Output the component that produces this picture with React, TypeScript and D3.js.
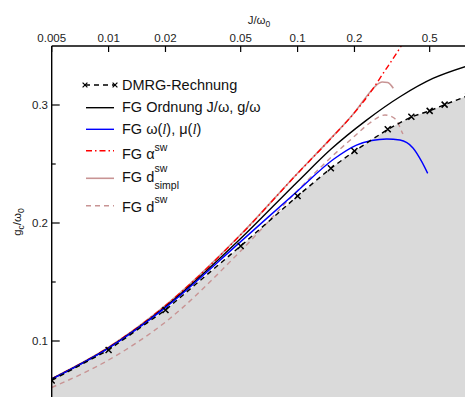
import React from "react";
import * as d3 from "d3";

const W = 465;
const H = 397;

// Axis ticks
const X_TICKS = [0.005, 0.01, 0.02, 0.05, 0.1, 0.2, 0.5];
const X_TICK_LABELS = ["0.005", "0.01", "0.02", "0.05", "0.1", "0.2", "0.5"];
const Y_TICKS = [0.1, 0.2, 0.3];
const Y_TICK_LABELS = ["0.1", "0.2", "0.3"];
const Y_MINOR_TICKS = [0.15, 0.25];

// DMRG reference points
const J_DMRG = [0.005, 0.01, 0.02, 0.05, 0.1, 0.15, 0.2, 0.3, 0.4, 0.5, 0.6, 0.8];
const G_DMRG = [0.0666, 0.0924, 0.1263, 0.1805, 0.2229, 0.2464, 0.261, 0.2794, 0.29, 0.295, 0.3003, 0.308];

// Flow-equation results
const J_ORD = [0.005, 0.01, 0.02, 0.05, 0.1, 0.15, 0.23, 0.35, 0.52, 0.77];
const G_ORD = [0.0678, 0.0942, 0.129, 0.1868, 0.235, 0.2625, 0.2868, 0.3072, 0.3225, 0.3325];

const J_OMEGA = [0.005, 0.01, 0.02, 0.05, 0.1, 0.155, 0.205, 0.247, 0.296, 0.348, 0.408, 0.454, 0.488];
const G_OMEGA = [0.0677, 0.094, 0.1283, 0.1842, 0.2272, 0.254, 0.266, 0.2699, 0.2712, 0.2703, 0.2636, 0.252, 0.2421];

const J_ALPHA = [0.005, 0.01, 0.02, 0.05, 0.1, 0.15, 0.2, 0.24, 0.284, 0.348, 0.42];
const G_ALPHA = [0.068, 0.0946, 0.13, 0.19, 0.242, 0.2715, 0.2935, 0.3095, 0.3269, 0.3483, 0.37];

const J_DSIMPL = [0.005, 0.01, 0.02, 0.05, 0.1, 0.15, 0.2, 0.235, 0.26, 0.28, 0.3, 0.321];
const G_DSIMPL = [0.0681, 0.0947, 0.1302, 0.1902, 0.2422, 0.2717, 0.2937, 0.3085, 0.3165, 0.3195, 0.319, 0.3142];

const J_DSW = [0.005, 0.01, 0.02, 0.05, 0.1, 0.15, 0.2, 0.24, 0.29, 0.334, 0.352, 0.361];
const G_DSW = [0.0606, 0.0839, 0.1161, 0.1763, 0.2275, 0.2555, 0.2735, 0.2845, 0.2915, 0.2873, 0.279, 0.2754];

const FONT = "'Liberation Sans', Arial, Helvetica, sans-serif";
const PINK = "rgb(200,148,148)";

export default function App() {
  const x = d3.scaleLog().domain([0.005, 0.769]).range([51.7, 465]);
  const y = d3.scaleLinear().domain([0.05, 0.35]).range([400, 46]);

  const smooth = (js: number[], gs: number[]) =>
    d3
      .line<number>()
      .x((_, i) => x(js[i]))
      .y((g) => y(g))
      .curve(d3.curveMonotoneX)(gs) || "";

  const dmrgLine =
    d3
      .line<number>()
      .x((_, i) => x(J_DMRG[i]))
      .y((g) => y(g))(G_DMRG) || "";

  const dmrgArea =
    d3
      .area<number>()
      .x((_, i) => x(J_DMRG[i]))
      .y0(H + 20)
      .y1((g) => y(g))(G_DMRG) || "";

  const cross = "M-3,-3L3,3M-3,3L3,-3";
  const left = x(0.005);
  const top = y(0.35);

  const legendLineX0 = 86;
  const legendLineX1 = 114;
  const textX = 122;
  const supX = 154.5;

  return (
    <svg
      width={W}
      height={H}
      style={{ position: "absolute", left: 0, top: 0, background: "#fff" }}
      fontFamily={FONT}
    >
      <defs>
        <clipPath id="plot">
          <rect x={left} y={top} width={W - left} height={H - top} />
        </clipPath>
      </defs>

      <g clipPath="url(#plot)">
        <path d={dmrgArea} fill="#dadada" />
        <path d={smooth(J_DSW, G_DSW)} fill="none" stroke={PINK} strokeWidth={1.4} strokeDasharray="5,4" />
        <path d={smooth(J_DSIMPL, G_DSIMPL)} fill="none" stroke={PINK} strokeWidth={1.6} />
        <path d={smooth(J_ALPHA, G_ALPHA)} fill="none" stroke="#ff0000" strokeWidth={1.4} strokeDasharray="6,3,1.5,3" />
        <path d={smooth(J_ORD, G_ORD)} fill="none" stroke="#000" strokeWidth={1.4} />
        <path d={smooth(J_OMEGA, G_OMEGA)} fill="none" stroke="#0000ff" strokeWidth={1.4} />
        <path d={dmrgLine} fill="none" stroke="#000" strokeWidth={1.4} strokeDasharray="5,4" />
        {J_DMRG.map((j, i) => (
          <path
            key={j}
            d={cross}
            transform={`translate(${x(j)},${y(G_DMRG[i])})`}
            stroke="#000"
            strokeWidth={1.5}
            fill="none"
          />
        ))}
      </g>

      {/* axes */}
      <line x1={left} x2={W} y1={top} y2={top} stroke="#000" strokeWidth={1.4} />
      <line x1={left} x2={left} y1={top} y2={H} stroke="#000" strokeWidth={1.4} />
      {X_TICKS.map((t, i) => (
        <g key={t}>
          <line x1={x(t)} x2={x(t)} y1={top} y2={top + 6} stroke="#000" strokeWidth={1.2} />
          <text x={x(t)} y={41.5} fontSize={11.5} textAnchor="middle" fill="#222">
            {X_TICK_LABELS[i]}
          </text>
        </g>
      ))}
      {Y_TICKS.map((t, i) => (
        <g key={t}>
          <line x1={left} x2={left + 8} y1={y(t)} y2={y(t)} stroke="#000" strokeWidth={1.2} />
          <text x={48} y={y(t) + 4} fontSize={11.5} textAnchor="end" fill="#222">
            {Y_TICK_LABELS[i]}
          </text>
        </g>
      ))}
      {Y_MINOR_TICKS.map((t) => (
        <line key={t} x1={left} x2={left + 4} y1={y(t)} y2={y(t)} stroke="#000" strokeWidth={1.2} />
      ))}

      {/* axis titles */}
      <text x={259} y={24} fontSize={11.5} textAnchor="middle" fill="#222">
        J/ω<tspan fontSize={8.5} dy={3}>0</tspan>
      </text>
      <text transform="translate(21,222) rotate(-90)" fontSize={11.5} textAnchor="middle" fill="#222">
        g<tspan fontSize={8.5} dy={3}>c</tspan>
        <tspan dy={-3}>/ω</tspan>
        <tspan fontSize={8.5} dy={3}>0</tspan>
      </text>

      {/* legend */}
      <g fontSize={14.5} fill="#111">
        <line x1={85} x2={115} y1={85} y2={85} stroke="#000" strokeWidth={1.3} strokeDasharray="5,4" />
        <path d={cross} transform="translate(85,85) scale(0.8)" stroke="#000" strokeWidth={1.5} />
        <path d={cross} transform="translate(115,85) scale(0.8)" stroke="#000" strokeWidth={1.5} />
        <text x={textX} y={90}>DMRG-Rechnung</text>

        <line x1={legendLineX0} x2={legendLineX1} y1={107.7} y2={107.7} stroke="#000" strokeWidth={1.4} />
        <text x={textX} y={112}>FG Ordnung J/ω, g/ω</text>

        <line x1={legendLineX0} x2={legendLineX1} y1={129.3} y2={129.3} stroke="#0000ff" strokeWidth={1.4} />
        <text x={textX} y={134}>
          FG ω(<tspan fontFamily="'Liberation Serif', 'Times New Roman', serif" fontStyle="italic">l</tspan>), μ(
          <tspan fontFamily="'Liberation Serif', 'Times New Roman', serif" fontStyle="italic">l</tspan>)
        </text>

        <line x1={legendLineX0} x2={legendLineX1} y1={150.7} y2={150.7} stroke="#ff0000" strokeWidth={1.4} strokeDasharray="6,3,1.5,3" />
        <text x={textX} y={159.3}>FG α</text>
        <text x={supX} y={150.5} fontSize={10.5}>sw</text>

        <line x1={legendLineX0} x2={legendLineX1} y1={178.3} y2={178.3} stroke={PINK} strokeWidth={1.6} />
        <text x={textX} y={181.7}>FG d</text>
        <text x={supX} y={172} fontSize={10.5}>sw</text>
        <text x={supX} y={188.5} fontSize={10.5}>simpl</text>

        <line x1={legendLineX0} x2={legendLineX1} y1={205.7} y2={205.7} stroke={PINK} strokeWidth={1.4} strokeDasharray="5,4" />
        <text x={textX} y={211.7}>FG d</text>
        <text x={supX} y={203} fontSize={10.5}>sw</text>
      </g>
    </svg>
  );
}
